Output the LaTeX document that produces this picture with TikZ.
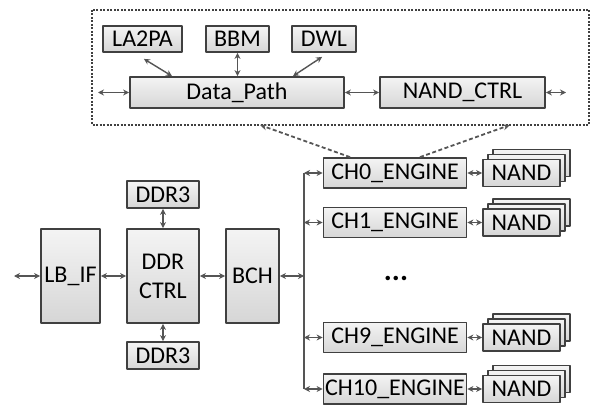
\documentclass[tikz,border=0pt]{standalone}
\usepackage{fontspec}
\setmainfont{Carlito}
\usetikzlibrary{arrows.meta,calc}
\definecolor{bord}{HTML}{404040}
\definecolor{wire}{HTML}{555555}
\definecolor{topg}{HTML}{F4F4F4}
\definecolor{botg}{HTML}{D6D6D6}
\begin{document}
\begin{tikzpicture}[x=1pt,y=-1pt,line join=round,
	blk/.style={draw=bord,line width=1.8pt,top color=topg,bottom color=botg,
		inner sep=0pt,font=\fontsize{24}{25}\selectfont,align=center},
	link/.style={{Stealth[length=6pt,width=6pt]}-{Stealth[length=6pt,width=6pt]},draw=wire,line width=1.4pt},
	dlink/.style={-{Stealth[length=7pt,width=6pt]},draw=wire,line width=1.8pt,dash pattern=on 4pt off 2.5pt},
	dashbox/.style={draw=bord,line width=1.2pt,dash pattern=on 2pt off 1.5pt}]
	\useasboundingbox (0,0) rectangle (591,406);
	\def\chx{395} \def\nx{521.5} \def\busx{304}
	% firmware part
	\draw[dashbox] (92,10) rectangle (589,125);
	\node[blk,minimum width=79pt,minimum height=26pt] (la2pa) at (142.5,39) {LA2PA};
	\node[blk,minimum width=63pt,minimum height=26pt] (bbm) at (237.5,39) {BBM};
	\node[blk,minimum width=64pt,minimum height=26pt] (dwl) at (324,39) {DWL};
	\node[blk,minimum width=214pt,minimum height=31pt] (dpath) at (237,92.5) {Data\_Path};
	\node[blk,minimum width=165pt,minimum height=31pt] (nctrl) at (462.5,92.5) {NAND\_CTRL};
	\coordinate (dpin) at (98,92.5);
	\coordinate (nout) at (566,92.5);
	\draw[link] (la2pa.south east)++(-39,6) coordinate (la) -- (dpath.north west-|172,0);
	\draw[link] (bbm) -- (bbm|-dpath.north);
	\draw[link] (dwl.south west)++(31,4) coordinate (dw) -- (dpath.north west-|293,0);
	\draw[link] (dpin) -- (dpath);
	\draw[link] (dpath) -- (nctrl);
	\draw[link] (nctrl) -- (nout);
	% hardware part
	\node[blk,minimum width=59pt,minimum height=94pt] (lbif) at (70.5,276) {LB\_IF};
	\node[blk,minimum width=72pt,minimum height=94pt] (ddr) at (163,276) {DDR\\[4pt]CTRL};
	\node[blk,minimum width=72pt,minimum height=27pt] (ddrt) at (163,194.5) {DDR3};
	\node[blk,minimum width=72pt,minimum height=27pt] (ddrb) at (163,355.5) {DDR3};
	\node[blk,minimum width=53pt,minimum height=94pt] (bch) at (252.5,276) {BCH};
	\coordinate (lbin) at (14,276);
	\coordinate (busm) at (\busx,276);
	\draw[link] (lbin) -- (lbif);
	\draw[link] (lbif) -- (ddr);
	\draw[link] (ddr) -- (bch);
	\draw[link] (ddrt) -- (ddr);
	\draw[link] (ddr) -- (ddrb);
	\draw[link] (bch) -- (busm);
	\draw[wire,line width=1.8pt] (\busx,173) -- (\busx,389);
	\foreach \y/\n in {173/0,222.5/1,337.5/9,389/10}{
		\node[blk,minimum width=77pt,minimum height=27pt] (nand\n c) at (\nx+10,\y-10) {};
		\node[blk,minimum width=77pt,minimum height=27pt] (nand\n b) at (\nx+5,\y-5) {};
		\node[blk,minimum width=77pt,minimum height=27pt] (nand\n) at (\nx,\y) {NAND};
		\node[blk,minimum width=143pt,minimum height=30pt] (ch\n) at (\chx,\y) {CH\n\_ENGINE};
		\coordinate (bus\n) at (\busx,\y);
		\draw[link] (bus\n) -- (ch\n);
		\draw[link] (ch\n) -- (nand\n);
	}
	\node[font=\fontsize{30}{30}\selectfont] (dots) at (396,278) {\textbf{...}};
	\draw[dlink] ($(ch0.north)+(-45,0)$) -- (260,125);
	\draw[dlink] ($(ch0.north)+(25,0)$) -- (510,125);
\end{tikzpicture}
\end{document}
